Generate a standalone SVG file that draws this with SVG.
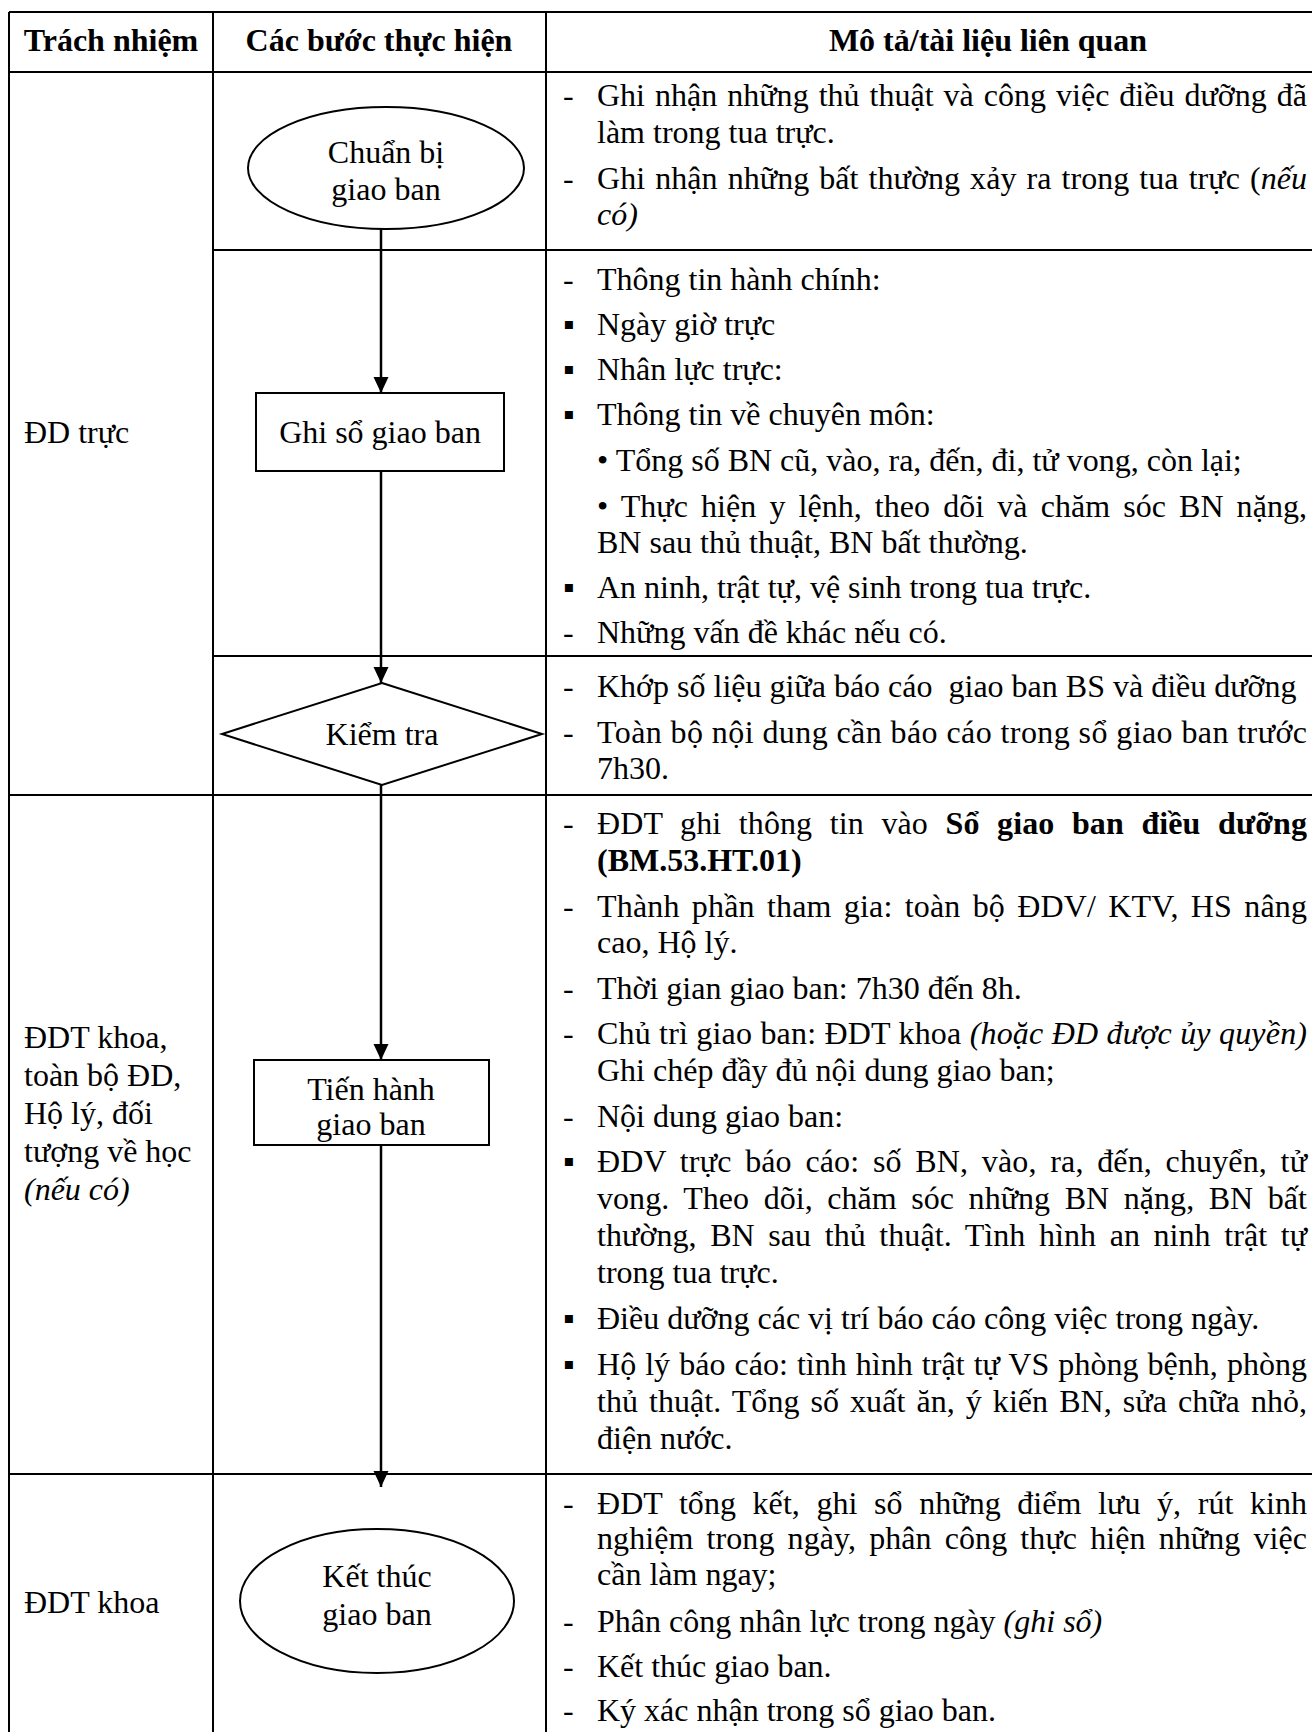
<svg xmlns="http://www.w3.org/2000/svg" width="1312" height="1732" viewBox="0 0 1312 1732">
<defs>
<style>
text{font-family:"Liberation Serif","Times New Roman",serif;font-size:32px;fill:#000}
.h{font-weight:bold}
.m{text-anchor:middle}
.i{font-style:italic}
.b{font-weight:bold}
.tl{stroke:#000;stroke-width:2;fill:none}
.nd{stroke:#000;stroke-width:2;fill:#fff}
.cn{stroke:#000;stroke-width:2.5;fill:none;marker-end:url(#ah)}
</style>
<marker id="ah" markerUnits="userSpaceOnUse" markerWidth="16" markerHeight="16" refX="16" refY="7.5" orient="auto" viewBox="0 0 16 15">
<path d="M0,0 L16,7.5 L0,15 Z" fill="#000"/>
</marker>
</defs>
<rect width="1312" height="1732" fill="#fff"/>
<g id="table">
<path class="tl" d="M9,12 H1312 M9,72 H1312 M213,250 H1312 M213,656 H1312 M9,795 H1312 M9,1474 H1312 M9,12 V1732 M213,12 V1732 M546,12 V1732"/>
</g>
<g id="header">
<text class="h m" x="111" y="51">Trách nhiệm</text>
<text class="h m" x="379" y="51">Các bước thực hiện</text>
<text class="h m" x="988" y="51">Mô tả/tài liệu liên quan</text>
</g>
<g id="responsibility">
<text x="24" y="443">ĐD trực</text>
<text x="24" y="1048">ĐDT khoa,</text>
<text x="24" y="1086">toàn bộ ĐD,</text>
<text x="24" y="1124">Hộ lý, đối</text>
<text x="24" y="1162">tượng về học</text>
<text x="24" y="1200" class="i">(nếu có)</text>
<text x="24" y="1613">ĐDT khoa</text>
</g>
<g id="connectors">
<line class="cn" x1="381" y1="229" x2="381" y2="393"/>
<line class="cn" x1="381" y1="471" x2="381" y2="683"/>
<line class="cn" x1="381" y1="785" x2="381" y2="1060"/>
<line class="cn" x1="381" y1="1145" x2="381" y2="1487"/>
</g>
<g id="n1">
<ellipse class="nd" cx="386" cy="168" rx="138" ry="61"/>
<text class="m" x="386" y="163">Chuẩn bị</text>
<text class="m" x="386" y="200">giao ban</text>
</g>
<g id="n2">
<rect class="nd" x="256" y="393" width="248" height="78"/>
<text class="m" x="380" y="443">Ghi sổ giao ban</text>
</g>
<g id="n3">
<polygon class="nd" points="382,683 542,734 382,785 222,734"/>
<text class="m" x="382" y="745">Kiểm tra</text>
</g>
<g id="n4">
<rect class="nd" x="254" y="1060" width="235" height="85"/>
<text class="m" x="371" y="1100">Tiến hành</text>
<text class="m" x="371" y="1135">giao ban</text>
</g>
<g id="n5">
<ellipse class="nd" cx="377" cy="1601" rx="137" ry="72"/>
<text class="m" x="377" y="1587">Kết thúc</text>
<text class="m" x="377" y="1625">giao ban</text>
</g>
<g id="desc">
<text x="563" y="106">-</text>
<text x="597" y="106" word-spacing="2" textLength="710" lengthAdjust="spacing">Ghi nhận những thủ thuật và công việc điều dưỡng đã</text>
<text x="597" y="143">làm trong tua trực.</text>
<text x="563" y="189">-</text>
<text x="597" y="189" word-spacing="2" textLength="710" lengthAdjust="spacing">Ghi nhận những bất thường xảy ra trong tua trực (<tspan class="i">nếu</tspan></text>
<text x="597" y="225" class="i">có)</text>

<text x="563" y="290">-</text>
<text x="597" y="290">Thông tin hành chính:</text>
<text x="563" y="335">▪</text>
<text x="597" y="335">Ngày giờ trực</text>
<text x="563" y="380">▪</text>
<text x="597" y="380">Nhân lực trực:</text>
<text x="563" y="425">▪</text>
<text x="597" y="425">Thông tin về chuyên môn:</text>
<text x="597" y="471">• Tổng số BN cũ, vào, ra, đến, đi, tử vong, còn lại;</text>
<text x="597" y="517" word-spacing="5" textLength="710" lengthAdjust="spacing">• Thực hiện y lệnh, theo dõi và chăm sóc BN nặng,</text>
<text x="597" y="553">BN sau thủ thuật, BN bất thường.</text>
<text x="563" y="598">▪</text>
<text x="597" y="598">An ninh, trật tự, vệ sinh trong tua trực.</text>
<text x="563" y="643">-</text>
<text x="597" y="643">Những vấn đề khác nếu có.</text>

<text x="563" y="697">-</text>
<text x="597" y="697" xml:space="preserve">Khớp số liệu giữa báo cáo  giao ban BS và điều dưỡng</text>
<text x="563" y="743">-</text>
<text x="597" y="743" textLength="710" lengthAdjust="spacing">Toàn bộ nội dung cần báo cáo trong sổ giao ban trước</text>
<text x="597" y="779">7h30.</text>

<text x="563" y="834">-</text>
<text x="597" y="834" word-spacing="9.5" textLength="710" lengthAdjust="spacing">ĐDT ghi thông tin vào <tspan class="b">Sổ giao ban điều dưỡng</tspan></text>
<text x="597" y="871" class="b">(BM.53.HT.01)</text>
<text x="563" y="917">-</text>
<text x="597" y="917" word-spacing="4" textLength="710" lengthAdjust="spacing">Thành phần tham gia: toàn bộ ĐDV/ KTV, HS nâng</text>
<text x="597" y="953">cao, Hộ lý.</text>
<text x="563" y="999">-</text>
<text x="597" y="999">Thời gian giao ban: 7h30 đến 8h.</text>
<text x="563" y="1044">-</text>
<text x="597" y="1044" textLength="710" lengthAdjust="spacing">Chủ trì giao ban: ĐDT khoa <tspan class="i">(hoặc ĐD được ủy quyền)</tspan></text>
<text x="597" y="1081">Ghi chép đầy đủ nội dung giao ban;</text>
<text x="563" y="1127">-</text>
<text x="597" y="1127">Nội dung giao ban:</text>
<text x="563" y="1172">▪</text>
<text x="597" y="1172" word-spacing="5.5" textLength="710" lengthAdjust="spacing">ĐDV trực báo cáo: số BN, vào, ra, đến, chuyển, tử</text>
<text x="597" y="1209" word-spacing="6.5" textLength="710" lengthAdjust="spacing">vong. Theo dõi, chăm sóc những BN nặng, BN bất</text>
<text x="597" y="1246" word-spacing="5.5" textLength="710" lengthAdjust="spacing">thường, BN sau thủ thuật. Tình hình an ninh trật tự</text>
<text x="597" y="1283">trong tua trực.</text>
<text x="563" y="1329">▪</text>
<text x="597" y="1329">Điều dưỡng các vị trí báo cáo công việc trong ngày.</text>
<text x="563" y="1375">▪</text>
<text x="597" y="1375" word-spacing="1" textLength="710" lengthAdjust="spacing">Hộ lý báo cáo: tình hình trật tự VS phòng bệnh, phòng</text>
<text x="597" y="1412" word-spacing="3" textLength="710" lengthAdjust="spacing">thủ thuật. Tổng số xuất ăn, ý kiến BN, sửa chữa nhỏ,</text>
<text x="597" y="1449">điện nước.</text>

<text x="563" y="1514">-</text>
<text x="597" y="1514" word-spacing="8.5" textLength="710" lengthAdjust="spacing">ĐDT tổng kết, ghi sổ những điểm lưu ý, rút kinh</text>
<text x="597" y="1549" word-spacing="5" textLength="710" lengthAdjust="spacing">nghiệm trong ngày, phân công thực hiện những việc</text>
<text x="597" y="1585">cần làm ngay;</text>
<text x="563" y="1632">-</text>
<text x="597" y="1632">Phân công nhân lực trong ngày <tspan class="i">(ghi sổ)</tspan></text>
<text x="563" y="1677">-</text>
<text x="597" y="1677">Kết thúc giao ban.</text>
<text x="563" y="1721">-</text>
<text x="597" y="1721">Ký xác nhận trong sổ giao ban.</text>
</g>
</svg>
